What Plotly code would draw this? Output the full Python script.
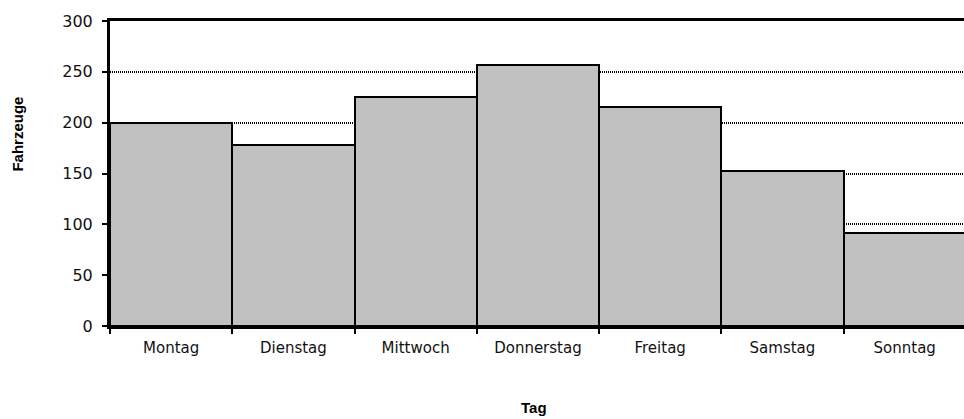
import plotly.graph_objects as go

# Vehicles counted per weekday
tage = ["Montag", "Dienstag", "Mittwoch", "Donnerstag", "Freitag", "Samstag", "Sonntag"]
fahrzeuge = [200, 178, 225, 257, 215, 152, 91]
y_ticks = [0, 50, 100, 150, 200, 250, 300]

fig = go.Figure(
    go.Bar(
        x=tage,
        y=fahrzeuge,
        marker=dict(color="#c0c0c0", line=dict(color="black", width=2)),
        hoverinfo="x+y",
    )
)

fig.update_layout(
    width=964,
    height=419,
    margin=dict(l=110, r=0, t=21, b=93),
    paper_bgcolor="white",
    plot_bgcolor="white",
    bargap=0,
    showlegend=False,
    font=dict(family="DejaVu Sans", size=15, color="black"),
)

# the last bar runs just past the right edge of the plot area
fig.update_xaxes(
    range=[-0.5, 6.485],
    showline=True,
    linecolor="black",
    linewidth=3,
    mirror=True,
    ticks="outside",
    tickson="boundaries",
    ticklen=5,
    tickwidth=2,
    tickcolor="black",
    showgrid=False,
    ticklabelstandoff=6,
    tickfont=dict(family="DejaVu Sans", size=15, color="#111111"),
)

fig.update_yaxes(
    range=[0, 300],
    tickvals=y_ticks,
    showline=True,
    linecolor="black",
    linewidth=3,
    ticks="outside",
    ticklen=5,
    tickwidth=2,
    tickcolor="black",
    showgrid=True,
    gridcolor="black",
    gridwidth=2,
    griddash="1px,1px",
    zeroline=False,
    ticklabelstandoff=6,
    tickfont=dict(family="DejaVu Sans", size=16, color="#111111"),
)

fig.add_annotation(
    text="<b>Fahrzeuge</b>",
    xref="paper", yref="paper",
    x=-0.108, y=0.63,
    xanchor="center", yanchor="middle",
    textangle=-90,
    showarrow=False,
    font=dict(family="Liberation Sans", size=15, color="black"),
)
fig.add_annotation(
    text="<b>Tag</b>",
    xref="paper", yref="paper",
    x=0.496, y=-0.266,
    xanchor="center", yanchor="middle",
    showarrow=False,
    font=dict(family="Liberation Sans", size=15, color="black"),
)

fig.write_html("out.html")
